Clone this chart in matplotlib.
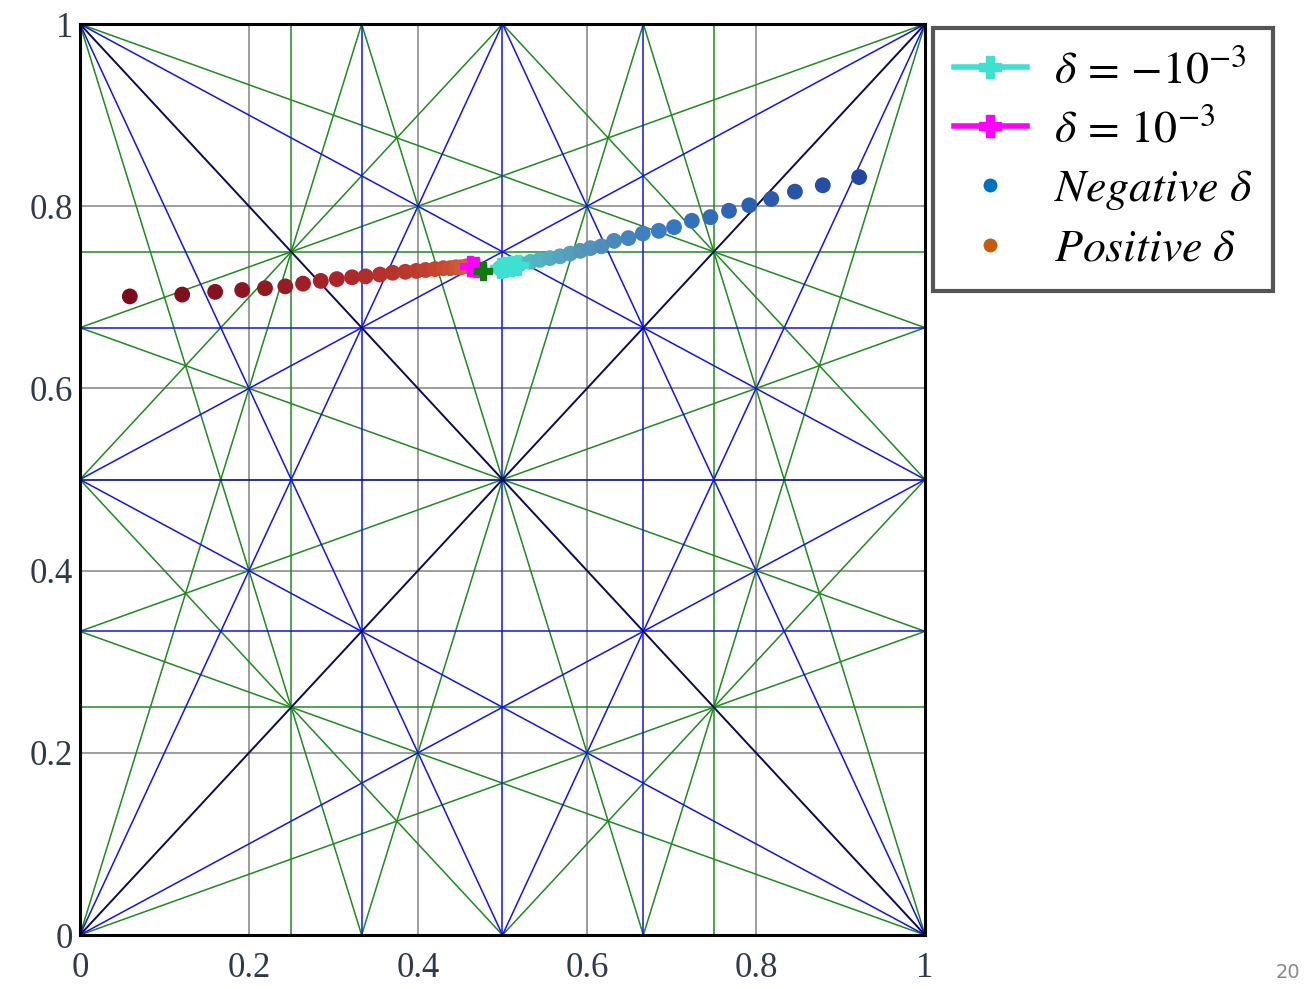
import numpy as np
import matplotlib
matplotlib.use('Agg')
import matplotlib.pyplot as plt
from matplotlib.colors import LinearSegmentedColormap
from matplotlib.lines import Line2D

# grid levels (vertical + horizontal lines)
gray_levels = [0.2, 0.4, 0.6, 0.8]
green_levels = [0.25, 0.75]
blue_levels = [1 / 3, 2 / 3]
mid_level = 0.5

t1, t2 = 1 / 3, 2 / 3
# navy diagonals
navy_segs = [((0, 0), (1, 1)), ((0, 1), (1, 0))]
# blue: corners to opposite mid-edges
blue_segs = [((0, 1), (0.5, 0)), ((0, 1), (1, 0.5)),
             ((0, 0), (0.5, 1)), ((0, 0), (1, 0.5)),
             ((1, 1), (0, 0.5)), ((1, 1), (0.5, 0)),
             ((1, 0), (0, 0.5)), ((1, 0), (0.5, 1))]
# green: corners to third points, diamond, third-to-third crosses
green_segs = [((0, 0), (t1, 1)), ((0, 0), (1, t1)),
              ((1, 1), (t2, 0)), ((1, 1), (0, t2)),
              ((0, 1), (t1, 0)), ((0, 1), (1, t2)),
              ((1, 0), (t2, 1)), ((1, 0), (0, t1)),
              ((0, 0.5), (0.5, 1)), ((0.5, 1), (1, 0.5)),
              ((1, 0.5), (0.5, 0)), ((0.5, 0), (0, 0.5)),
              ((0, t2), (1, t1)), ((0, t1), (1, t2)),
              ((t1, 0), (t2, 1)), ((t2, 0), (t1, 1))]

# positive delta trajectory
pos_x = [0.059, 0.121, 0.160, 0.192, 0.219, 0.243, 0.264, 0.285, 0.304, 0.322,
         0.338, 0.355, 0.370, 0.385, 0.398, 0.409, 0.420, 0.430, 0.438, 0.445,
         0.451, 0.457, 0.462, 0.466]
pos_y = [0.701, 0.703, 0.706, 0.708, 0.710, 0.712, 0.715, 0.718, 0.720, 0.722,
         0.723, 0.725, 0.727, 0.728, 0.729, 0.730, 0.731, 0.732, 0.732, 0.733,
         0.733, 0.734, 0.734, 0.735]
# negative delta trajectory
neg_x = [0.497, 0.509, 0.521, 0.533, 0.544, 0.556, 0.568, 0.580, 0.592, 0.604,
         0.617, 0.632, 0.649, 0.666, 0.685, 0.703, 0.724, 0.746, 0.768, 0.792,
         0.818, 0.846, 0.879, 0.922]
neg_y = [0.732, 0.734, 0.737, 0.739, 0.741, 0.743, 0.745, 0.748, 0.751, 0.754,
         0.756, 0.762, 0.765, 0.770, 0.773, 0.777, 0.784, 0.788, 0.795, 0.801,
         0.808, 0.816, 0.823, 0.832]

# delta = -1e-3 and delta = 1e-3 markers
cyan_x = [0.497, 0.503, 0.510, 0.518]
cyan_y = [0.732, 0.733, 0.734, 0.736]
mag_x = [0.462, 0.469]
mag_y = [0.734, 0.733]
start_x = [0.477]
start_y = [0.729]

tick_vals = [0, 0.2, 0.4, 0.6, 0.8, 1]
tick_labels = ['0', '0.2', '0.4', '0.6', '0.8', '1']

plt.rcParams['mathtext.fontset'] = 'stix'

fig = plt.figure(figsize=(13.04, 9.89), dpi=100)
ax = fig.add_axes([0.0613, 0.0546, 0.6481, 0.9211])

for v in gray_levels:
    ax.axvline(v, color='#8c8c8c', lw=1.2, zorder=1)
    ax.axhline(v, color='#8c8c8c', lw=1.2, zorder=1)
for v in green_levels:
    ax.axvline(v, color='#1f8a1f', lw=1.1, zorder=2)
    ax.axhline(v, color='#1f8a1f', lw=1.1, zorder=2)
for (x0, y0), (x1, y1) in green_segs:
    ax.plot([x0, x1], [y0, y1], color='#1f8a1f', lw=1.1, zorder=2)
for v in blue_levels:
    ax.axvline(v, color='#1414e6', lw=1.1, zorder=3)
    ax.axhline(v, color='#1414e6', lw=1.1, zorder=3)
ax.axvline(mid_level, color='#1414e6', lw=1.1, zorder=3)
ax.axhline(mid_level, color='#0a0a8a', lw=1.2, zorder=3)
for (x0, y0), (x1, y1) in blue_segs:
    ax.plot([x0, x1], [y0, y1], color='#1414e6', lw=1.1, zorder=3)
for (x0, y0), (x1, y1) in navy_segs:
    ax.plot([x0, x1], [y0, y1], color='#0a0a55', lw=1.4, zorder=4)

red_cmap = LinearSegmentedColormap.from_list('reds', ['#7a0c1e', '#a8242a', '#c2402e', '#d26a42'])
blue_cmap = LinearSegmentedColormap.from_list('blues', ['#48d0cc', '#5a98b8', '#3575c0', '#2448a0'])
ax.scatter(pos_x, pos_y, c=np.arange(len(pos_x)), cmap=red_cmap, s=130,
           edgecolors='none', zorder=5)
ax.scatter(neg_x, neg_y, c=np.arange(len(neg_x)), cmap=blue_cmap, s=130,
           edgecolors='none', zorder=5)
ax.plot(cyan_x, cyan_y, color='#40e0d0', lw=5, marker='P', ms=14, zorder=6)
ax.plot(mag_x, mag_y, color='#ff00ff', lw=5, marker='P', ms=14, zorder=6)
ax.plot(start_x, start_y, color='#0f7a0f', marker='P', ms=13, ls='none', zorder=7)

ax.set_xlim(0, 1)
ax.set_ylim(0, 1)
ax.set_xticks(tick_vals)
ax.set_xticklabels(tick_labels)
ax.set_yticks(tick_vals)
ax.set_yticklabels(tick_labels)
ax.tick_params(length=0, labelsize=25, labelcolor='#2e3a4c')
ax.tick_params(axis='x', pad=12)
ax.tick_params(axis='y', pad=5)
for lab in ax.get_xticklabels() + ax.get_yticklabels():
    lab.set_fontfamily('Liberation Serif')
for sp in ax.spines.values():
    sp.set_linewidth(2.2)
    sp.set_color('black')
    sp.set_zorder(10)

handles = [
    Line2D([], [], color='#40e0d0', lw=4, marker='P', ms=16),
    Line2D([], [], color='#ff00ff', lw=4, marker='P', ms=16),
    Line2D([], [], color='#0070c0', marker='o', ms=9, ls='none'),
    Line2D([], [], color='#c55a11', marker='o', ms=9, ls='none'),
]
labels = [r'$\delta\,=\,{-}10^{-3}$', r'$\delta\,=\,10^{-3}$',
          r'$Negative\ \delta$', r'$Positive\ \delta$']
leg = fig.legend(handles, labels, loc='upper left', bbox_to_anchor=(0.7155, 0.972),
                 fontsize=33, frameon=True, fancybox=False, framealpha=1,
                 edgecolor='#555555', handlelength=1.6, labelspacing=0.3,
                 borderpad=0.45, handletextpad=0.6, borderaxespad=0)
leg.get_frame().set_linewidth(3)

fig.text(0.978, 0.011, '20', color='#888888', fontsize=14)

fig.savefig('out.png', dpi=100)
